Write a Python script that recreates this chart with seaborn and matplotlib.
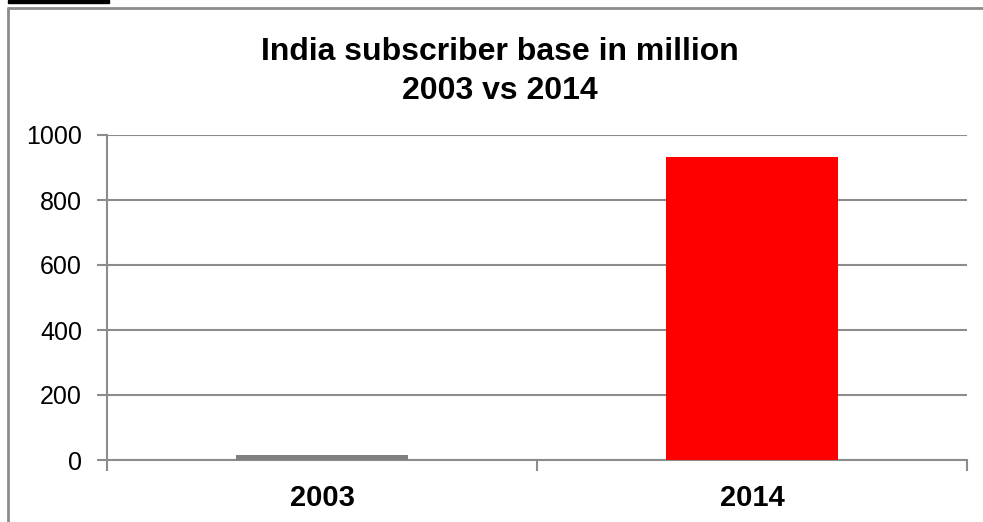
import matplotlib
matplotlib.use("Agg")
import matplotlib.pyplot as plt
import seaborn as sns
import pandas as pd
from matplotlib.lines import Line2D
from matplotlib.patches import Rectangle

years = ["2003", "2014"]
subscribers = [14, 932]
bar_colors = ["#808080", "#ff0000"]
yticks = [0, 200, 400, 600, 800, 1000]
title_lines = ["India subscriber base in million", "2003 vs 2014"]

sns.set_theme(style="white")
plt.rcParams["font.family"] = ["Liberation Sans", "DejaVu Sans"]

W, H = 983, 522
fig = plt.figure(figsize=(W / 100, H / 100), dpi=100)
ax = fig.add_axes([107 / W, 1 - 460 / H, (967 - 107) / W, (460 - 135) / H])

df = pd.DataFrame({"year": years, "value": subscribers})
sns.barplot(data=df, x="year", y="value", hue="year", palette=bar_colors,
            width=0.4, legend=False, ax=ax, saturation=1, zorder=3, linewidth=0)

grid_c = "#8c8c8c"
ax.set_ylim(0, 1000)
ax.set_xlim(-0.5, 1.5)
ax.set_yticks(yticks)
ax.set_yticklabels([str(v) for v in yticks], fontsize=18, color="black")
ax.yaxis.grid(True, color=grid_c, linewidth=1.5, zorder=0)
ax.set_axisbelow(True)
ax.set_xticks([0, 1])
ax.set_xticklabels(years, fontsize=21, fontweight="bold", color="black")
ax.set_xticks([-0.5, 0.5, 1.5], minor=True)
ax.tick_params(axis="x", which="major", length=0, pad=17)
ax.tick_params(axis="x", which="minor", length=8, width=1.5, color=grid_c, bottom=True)
ax.tick_params(axis="y", length=7, width=1.5, color=grid_c, pad=11, left=True)
ax.set_xlabel("")
ax.set_ylabel("")
for s in ["top", "right"]:
    ax.spines[s].set_visible(False)
for s in ["left", "bottom"]:
    ax.spines[s].set_color(grid_c)
    ax.spines[s].set_linewidth(1.5)

fig.text(500 / W, 1 - 37 / H, "\n".join(title_lines), ha="center", va="top",
         fontsize=23, fontweight="bold", linespacing=1.4, color="black")

# chart frame (clipped at right/bottom) and black mark top-left
fig.add_artist(Line2D([8 / W, 1.0], [1 - 8 / H, 1 - 8 / H], color="#8c8c8c", lw=2,
                      transform=fig.transFigure))
fig.add_artist(Line2D([8 / W, 8 / W], [1 - 8 / H, 0], color="#8c8c8c", lw=2,
                      transform=fig.transFigure))
fig.add_artist(Rectangle((8 / W, 1 - 2.5 / H), 101 / W, 2.5 / H, color="black",
                         transform=fig.transFigure))

fig.savefig("out.png", dpi=100)
